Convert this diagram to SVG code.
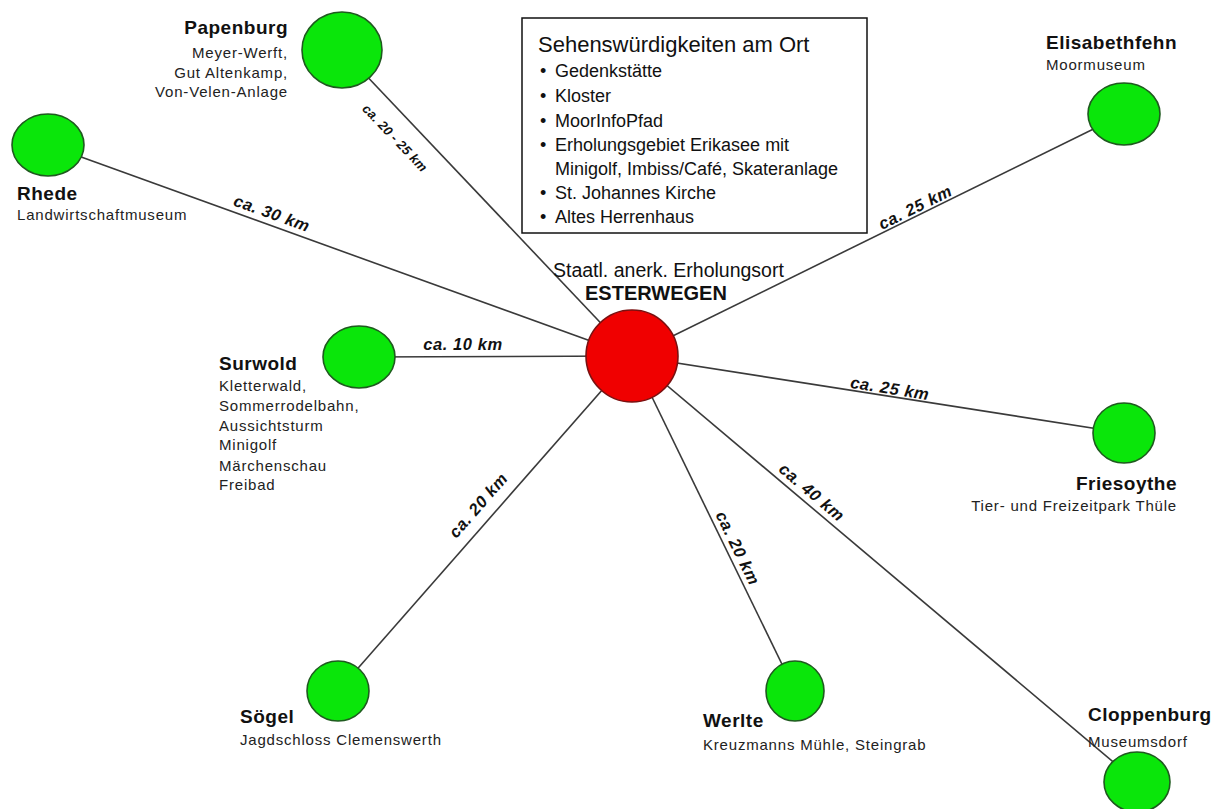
<svg xmlns="http://www.w3.org/2000/svg" width="1221" height="809" viewBox="0 0 1221 809">
<style>
.bg{fill:#fff}
.ln{stroke:#3a3a3a;stroke-width:1.6;fill:none}
.gr{fill:#0ae60a;stroke:#1f5a1f;stroke-width:1.6}
.rd{fill:#f00000;stroke:#7a1010;stroke-width:1.6}
.t{font-family:"Liberation Sans",Arial,sans-serif;font-weight:bold;font-size:19px;letter-spacing:0.5px;fill:#111}
.s{font-family:"Liberation Sans",Arial,sans-serif;font-size:15px;letter-spacing:0.8px;fill:#222}
.e{font-family:"Liberation Sans",Arial,sans-serif;font-style:italic;font-weight:bold;font-size:16.5px;letter-spacing:0.6px;fill:#111;text-anchor:middle;dominant-baseline:central}
.bx{fill:#fff;stroke:#111;stroke-width:1.5}
.bt{font-family:"Liberation Sans",Arial,sans-serif;font-size:22px;fill:#111}
.bi{font-family:"Liberation Sans",Arial,sans-serif;font-size:18px;fill:#111}
.end{text-anchor:end}
</style>
<rect class="bg" x="0" y="0" width="1221" height="809"/>
<g id="connectors">
  <line class="ln" x1="632" y1="356" x2="342" y2="50"/>
  <line class="ln" x1="632" y1="356" x2="48" y2="145"/>
  <line class="ln" x1="632" y1="356" x2="1124" y2="114"/>
  <line class="ln" x1="632" y1="356" x2="359" y2="357"/>
  <line class="ln" x1="632" y1="356" x2="1124" y2="433"/>
  <line class="ln" x1="632" y1="356" x2="1137" y2="782"/>
  <line class="ln" x1="632" y1="356" x2="795" y2="691"/>
  <line class="ln" x1="632" y1="356" x2="338" y2="691"/>
  <text class="e" style="font-size:13px;letter-spacing:0.2px" transform="translate(395,138) rotate(46.4)">ca. 20 - 25 km</text>
  <text class="e" transform="translate(272,213) rotate(19.8)">ca. 30 km</text>
  <text class="e" transform="translate(915,207) rotate(-26.2)">ca. 25 km</text>
  <text class="e" transform="translate(463,344)">ca. 10 km</text>
  <text class="e" transform="translate(890,388) rotate(9)">ca. 25 km</text>
  <text class="e" transform="translate(812,492) rotate(40.2)">ca. 40 km</text>
  <text class="e" transform="translate(738,548) rotate(64)">ca. 20 km</text>
  <text class="e" transform="translate(478,505) rotate(-48.9)">ca. 20 km</text>
</g>
<g id="box-sehenswuerdigkeiten">
  <rect class="bx" x="522" y="18" width="345" height="215"/>
  <text class="bt" x="538" y="52">Sehenswürdigkeiten am Ort</text>
  <g class="bi">
    <text x="540" y="77">•</text><text x="555" y="77">Gedenkstätte</text>
    <text x="540" y="102">•</text><text x="555" y="102">Kloster</text>
    <text x="540" y="127">•</text><text x="555" y="127">MoorInfoPfad</text>
    <text x="540" y="151">•</text><text x="555" y="151">Erholungsgebiet Erikasee mit</text>
    <text x="555" y="175">Minigolf, Imbiss/Café, Skateranlage</text>
    <text x="540" y="199">•</text><text x="555" y="199">St. Johannes Kirche</text>
    <text x="540" y="223">•</text><text x="555" y="223">Altes Herrenhaus</text>
  </g>
</g>
<g id="n-esterwegen">
  <circle class="rd" cx="632" cy="356" r="46"/>
  <text x="553" y="277" style="font-family:'Liberation Sans',Arial,sans-serif;font-size:19.5px;fill:#111">Staatl. anerk. Erholungsort</text>
  <text x="585" y="300" style="font-family:'Liberation Sans',Arial,sans-serif;font-size:20px;font-weight:bold;fill:#111">ESTERWEGEN</text>
</g>
<g id="n-papenburg">
  <ellipse class="gr" cx="342" cy="50" rx="40" ry="38"/>
  <text class="t end" x="288" y="34">Papenburg</text>
  <text class="s end" x="288" y="58">Meyer-Werft,</text>
  <text class="s end" x="288" y="78">Gut Altenkamp,</text>
  <text class="s end" x="288" y="97">Von-Velen-Anlage</text>
</g>
<g id="n-rhede">
  <ellipse class="gr" cx="48" cy="145" rx="36" ry="31"/>
  <text class="t" x="17" y="200">Rhede</text>
  <text class="s" x="17" y="220">Landwirtschaftmuseum</text>
</g>
<g id="n-elisabethfehn">
  <ellipse class="gr" cx="1124" cy="114" rx="36" ry="31"/>
  <text class="t" x="1046" y="49">Elisabethfehn</text>
  <text class="s" x="1046" y="70">Moormuseum</text>
</g>
<g id="n-surwold">
  <ellipse class="gr" cx="359" cy="357" rx="36" ry="31"/>
  <text class="t" x="219" y="370">Surwold</text>
  <text class="s" x="219" y="391">Kletterwald,</text>
  <text class="s" x="219" y="411">Sommerrodelbahn,</text>
  <text class="s" x="219" y="431">Aussichtsturm</text>
  <text class="s" x="219" y="450">Minigolf</text>
  <text class="s" x="219" y="471">Märchenschau</text>
  <text class="s" x="219" y="490">Freibad</text>
</g>
<g id="n-friesoythe">
  <ellipse class="gr" cx="1124" cy="433" rx="31" ry="30"/>
  <text class="t end" x="1177" y="490">Friesoythe</text>
  <text class="s end" x="1177" y="511">Tier- und Freizeitpark Thüle</text>
</g>
<g id="n-soegel">
  <ellipse class="gr" cx="338" cy="691" rx="31" ry="30"/>
  <text class="t" x="240" y="723">Sögel</text>
  <text class="s" x="240" y="745">Jagdschloss Clemenswerth</text>
</g>
<g id="n-werlte">
  <ellipse class="gr" cx="795" cy="691" rx="29" ry="30"/>
  <text class="t" x="703" y="727">Werlte</text>
  <text class="s" x="703" y="750">Kreuzmanns Mühle, Steingrab</text>
</g>
<g id="n-cloppenburg">
  <ellipse class="gr" cx="1137" cy="782" rx="33" ry="30"/>
  <text class="t" x="1088" y="721">Cloppenburg</text>
  <text class="s" x="1088" y="747">Museumsdorf</text>
</g>
</svg>
